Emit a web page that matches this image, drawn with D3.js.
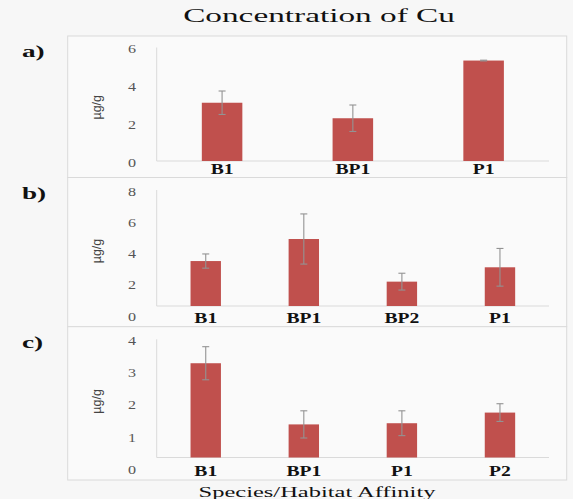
<!DOCTYPE html>
<html>
<head>
<meta charset="utf-8">
<script src="https://cdn.jsdelivr.net/npm/d3@7"></script>
<style>
  body { margin: 0; background: #f7f7f7; }
  svg { display: block; }
  .serif { font-family: "Liberation Serif", "DejaVu Serif", serif; }
</style>
</head>
<body>
<div id="chart"></div>
<script>
// data (µg/g)
var catsA = ["B1", "BP1", "P1"];
var valsA = [3.08, 2.26, 5.31];
var errA  = [0.62, 0.70, 0.02];
var ticksA = [0, 2, 4, 6];

var catsB = ["B1", "BP1", "BP2", "P1"];
var valsB = [3.10, 4.62, 1.68, 2.67];
var errB  = [0.49, 1.73, 0.58, 1.30];
var ticksB = [0, 2, 4, 6, 8];

var catsC = ["B1", "BP1", "P1", "P2"];
var valsC = [3.19, 1.12, 1.16, 1.52];
var errC  = [0.56, 0.46, 0.42, 0.30];
var ticksC = [0, 1, 2, 3, 4];

var W = 573, H = 499;
var barColor = "#c0504d";
var lineColor = "#dadada";

var svg = d3.select("#chart").append("svg")
    .attr("width", W)
    .attr("height", H);

svg.append("rect").attr("width", W).attr("height", H).attr("fill", "#f7f7f7");

// text that looks horizontally stretched like the scan
function wideText(g, x, y, str, sx) {
  return g.append("text")
      .attr("class", "serif")
      .attr("transform", "translate(" + x + "," + y + ") scale(" + sx + ",1)")
      .text(str);
}

wideText(svg, 319, 22, "Concentration of Cu", 1.85)
    .attr("text-anchor", "middle")
    .attr("font-size", 18)
    .attr("fill", "#111");

wideText(svg, 317, 497, "Species/Habitat Affinity", 1.75)
    .attr("text-anchor", "middle")
    .attr("font-size", 14)
    .attr("fill", "#111");

var panels = [
  {tag: "a)", cats: catsA, vals: valsA, errs: errA, ticks: ticksA,
   top: 36, bottom: 177.5, base: 161, plotTop: 47.5, lab0: 163, labTop: 49, catY: 169},
  {tag: "b)", cats: catsB, vals: valsB, errs: errB, ticks: ticksB,
   top: 177.5, bottom: 326.7, base: 306, plotTop: 190, lab0: 316.5, labTop: 191.7, catY: 318.3},
  {tag: "c)", cats: catsC, vals: valsC, errs: errC, ticks: ticksC,
   top: 326.7, bottom: 480, base: 457.5, plotTop: 339.3, lab0: 470, labTop: 340.5, catY: 470.7}
];

var left = 67.7, right = 566.7, axisX = 156.7, axisEnd = 549;

panels.forEach(function(p) {
  var g = svg.append("g");
  var maxT = d3.max(p.ticks);

  g.append("rect")
      .attr("x", left).attr("y", p.top)
      .attr("width", right - left).attr("height", p.bottom - p.top)
      .attr("fill", "#fafafa")
      .attr("stroke", lineColor);

  var x = d3.scaleBand().domain(p.cats).range([axisX, axisEnd])
      .paddingInner(0.69).paddingOuter(0.345);
  var y = d3.scaleLinear().domain([0, maxT]).range([p.base, p.plotTop]);
  // tick labels sit on a slightly different spread than the bars
  var yLab = d3.scaleLinear().domain([0, maxT]).range([p.lab0, p.labTop]);

  g.append("line")
      .attr("x1", axisX).attr("x2", axisX)
      .attr("y1", y(maxT)).attr("y2", y(0))
      .attr("stroke", lineColor);
  g.append("line")
      .attr("x1", axisX).attr("x2", axisEnd)
      .attr("y1", y(0)).attr("y2", y(0))
      .attr("stroke", lineColor);

  p.ticks.forEach(function(t) {
    wideText(g, 136, yLab(t) + 4, t, 1.4)
        .attr("text-anchor", "end")
        .attr("font-size", 11.5)
        .attr("fill", "#555");
  });

  g.append("text")
      .attr("transform", "translate(101," + ((y(0) + y(maxT)) / 2 + 3) + ") rotate(-90)")
      .attr("text-anchor", "middle")
      .attr("font-family", "Liberation Sans, DejaVu Sans, sans-serif")
      .attr("font-size", 12.5)
      .attr("fill", "#444")
      .text("µg/g");

  wideText(g, 22, p.top + 21, p.tag, 1.6)
      .attr("font-size", 17)
      .attr("font-weight", "bold")
      .attr("fill", "#111");

  var rows = p.cats.map(function(c, i) { return {cat: c, v: p.vals[i], e: p.errs[i]}; });

  g.selectAll("rect.bar").data(rows).enter().append("rect")
      .attr("class", "bar")
      .attr("x", function(d) { return x(d.cat); })
      .attr("width", x.bandwidth())
      .attr("y", function(d) { return y(d.v); })
      .attr("height", function(d) { return y(0) - y(d.v); })
      .attr("fill", barColor);

  var eb = g.selectAll("g.err").data(rows).enter().append("g")
      .attr("class", "err")
      .attr("stroke", "#939393")
      .attr("stroke-width", 1.1);
  eb.append("line")
      .attr("x1", function(d) { return x(d.cat) + x.bandwidth() / 2; })
      .attr("x2", function(d) { return x(d.cat) + x.bandwidth() / 2; })
      .attr("y1", function(d) { return y(d.v + d.e); })
      .attr("y2", function(d) { return y(d.v - d.e); });
  eb.append("line")
      .attr("x1", function(d) { return x(d.cat) + x.bandwidth() / 2 - 3.5; })
      .attr("x2", function(d) { return x(d.cat) + x.bandwidth() / 2 + 3.5; })
      .attr("y1", function(d) { return y(d.v + d.e); })
      .attr("y2", function(d) { return y(d.v + d.e); });
  eb.append("line")
      .attr("x1", function(d) { return x(d.cat) + x.bandwidth() / 2 - 3.5; })
      .attr("x2", function(d) { return x(d.cat) + x.bandwidth() / 2 + 3.5; })
      .attr("y1", function(d) { return y(d.v - d.e); })
      .attr("y2", function(d) { return y(d.v - d.e); });

  rows.forEach(function(d) {
    wideText(g, x(d.cat) + x.bandwidth() / 2, p.catY + 5, d.cat, 1.4)
        .attr("text-anchor", "middle")
        .attr("font-size", 14)
        .attr("font-weight", "bold")
        .attr("fill", "#111");
  });
});
</script>
</body>
</html>
